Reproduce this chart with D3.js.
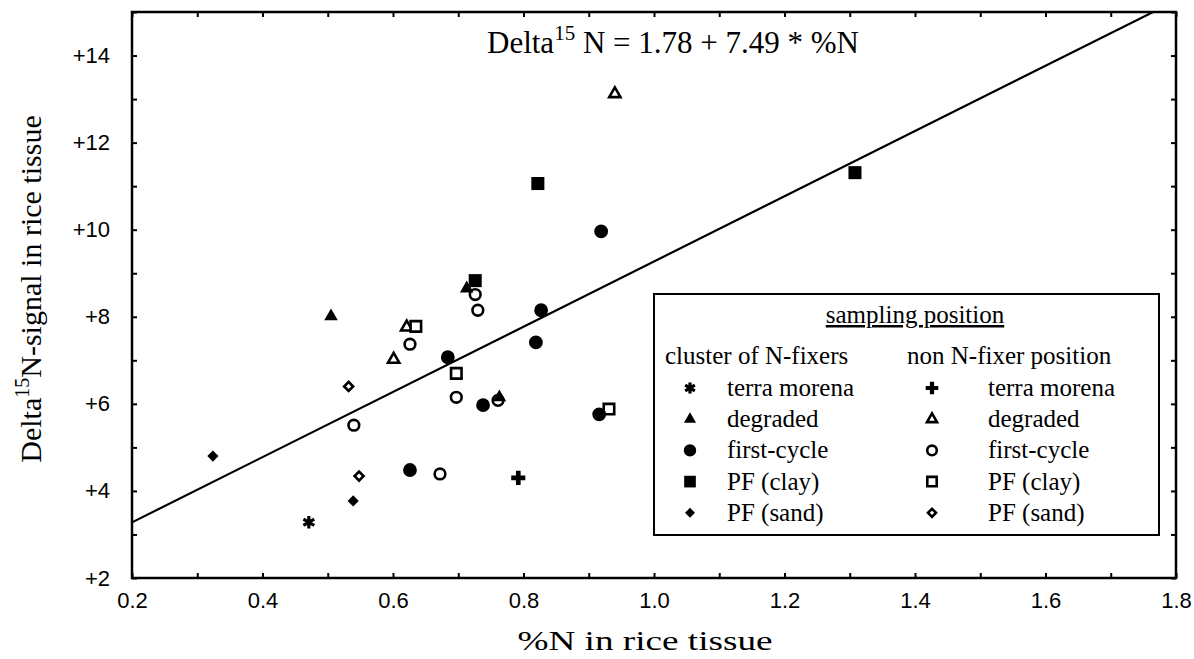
<!DOCTYPE html>
<html>
<head>
<meta charset="utf-8">
<script src="https://cdn.jsdelivr.net/npm/d3@7"></script>
<style>
  body { margin: 0; background: #fff; }
  svg { display: block; }
  .tick text { font-family: "Liberation Sans", Arial, sans-serif; font-size: 22px; fill: #000; }
  .tick line { stroke: #000; stroke-width: 2; }
  .serif { font-family: "Liberation Serif", "Times New Roman", serif; fill: #000; }
</style>
</head>
<body>
<svg id="chart" width="1194" height="659"></svg>
<script>
// cluster of N-fixers (filled markers), [%N, delta15N]
const fixTerraMorena = [[0.471, 3.28]];
const fixDegraded = [[0.505, 8.01], [0.713, 8.65], [0.763, 6.15]];
const fixFirstCycle = [[0.919, 9.96], [0.827, 8.15], [0.819, 7.41], [0.684, 7.07], [0.738, 5.97], [0.916, 5.76], [0.626, 4.48]];
const fixPfClay = [[0.822, 11.06], [0.726, 8.83], [1.308, 11.31]];
const fixPfSand = [[0.324, 4.80], [0.539, 3.77]];

// non N-fixer position (open markers)
const nonTerraMorena = [[0.792, 4.30]];
const nonDegraded = [[0.940, 13.12], [0.621, 7.76], [0.601, 7.02]];
const nonFirstCycle = [[0.726, 8.51], [0.730, 8.15], [0.626, 7.37], [0.697, 6.15], [0.761, 6.08], [0.540, 5.51], [0.672, 4.39]];
const nonPfClay = [[0.635, 7.78], [0.697, 6.70], [0.931, 5.88]];
const nonPfSand = [[0.532, 6.40], [0.548, 4.34]];

// regression: delta = 1.78 + 7.49 * %N
const fitIntercept = 1.78;
const fitSlope = 7.49;

const legendNames = ['terra morena', 'degraded', 'first-cycle', 'PF (clay)', 'PF (sand)'];
const xTickMinor = [0.2, 0.3, 0.4, 0.5, 0.6, 0.7, 0.8, 0.9, 1.0, 1.1, 1.2, 1.3, 1.4, 1.5, 1.6, 1.7, 1.8];
const xTickLabels = [0.2, 0.4, 0.6, 0.8, 1.0, 1.2, 1.4, 1.6, 1.8];
const yTickMinor = [2, 3, 4, 5, 6, 7, 8, 9, 10, 11, 12, 13, 14, 15];
const yTickLabels = [2, 4, 6, 8, 10, 12, 14];

const svg = d3.select('#chart');
const padLeft = 132, padRight = 1176, padTop = 12, padBottom = 578;

const x = d3.scaleLinear().domain([0.2, 1.8]).range([padLeft, padRight]);
const y = d3.scaleLinear().domain([2, 15]).range([padBottom, padTop]);

// marker shapes
const shapes = {
  'terra morena': { sym: d3.symbolAsterisk, size: 110, rot: 0 },
  'degraded': { sym: d3.symbolTriangle, size: 80, rot: 0 },
  'first-cycle': { sym: d3.symbolCircle, size: 150, rot: 0 },
  'PF (clay)': { sym: d3.symbolSquare, size: 170, rot: 0 },
  'PF (sand)': { sym: d3.symbolSquare, size: 62, rot: 45 }
};
const plusShape = { sym: d3.symbolCross, size: 110, rot: 0 };

function drawMarker(g, name, open, px, py, k) {
  let s = shapes[name];
  if (name === 'terra morena' && open) s = plusShape;
  let size = s.size * k;
  if (open && name === 'degraded') size = 55 * k;
  if (open && name === 'first-cycle') size = 90 * k;
  if (open && name === 'PF (clay)') size = 110 * k;
  if (open && name === 'PF (sand)') size = 40 * k;
  const p = g.append('path')
    .attr('d', d3.symbol().type(s.sym).size(size)())
    .attr('transform', `translate(${px},${py}) rotate(${s.rot})`);
  if (s.sym === d3.symbolAsterisk) {
    p.attr('fill', 'none').attr('stroke', '#000').attr('stroke-width', 3.2);
  } else if (open && s !== plusShape) {
    p.attr('fill', '#fff').attr('stroke', '#000').attr('stroke-width', 2.6);
  } else {
    p.attr('fill', '#000');
  }
}

// axes (ticks pointing inward)
const axisG = svg.append('g');
axisG.append('g')
  .attr('transform', `translate(0,${padBottom})`)
  .call(d3.axisBottom(x).tickValues(xTickMinor).tickSize(-5).tickPadding(14)
    .tickFormat(d => xTickLabels.some(v => Math.abs(v - d) < 1e-9) ? d3.format('.1f')(d) : ''));
axisG.append('g')
  .attr('transform', `translate(0,${padTop})`)
  .call(d3.axisTop(x).tickValues(xTickMinor).tickSize(-5).tickFormat(''));
axisG.append('g')
  .attr('transform', `translate(${padLeft},0)`)
  .call(d3.axisLeft(y).tickValues(yTickMinor).tickSize(-5).tickPadding(22)
    .tickFormat(d => yTickLabels.includes(d) ? '+' + d : ''));
axisG.append('g')
  .attr('transform', `translate(${padRight},0)`)
  .call(d3.axisRight(y).tickValues(yTickMinor).tickSize(-5).tickFormat(''));
axisG.selectAll('.domain').remove();

// frame
svg.append('rect')
  .attr('x', padLeft).attr('y', padTop)
  .attr('width', padRight - padLeft).attr('height', padBottom - padTop)
  .attr('fill', 'none').attr('stroke', '#000').attr('stroke-width', 2.5);

// regression line, clipped to plot
svg.append('clipPath').attr('id', 'plotClip')
  .append('rect').attr('x', padLeft).attr('y', padTop)
  .attr('width', padRight - padLeft).attr('height', padBottom - padTop);
const fitLine = d3.line().x(d => x(d)).y(d => y(fitIntercept + fitSlope * d));
svg.append('path')
  .attr('clip-path', 'url(#plotClip)')
  .attr('d', fitLine(x.domain()))
  .attr('fill', 'none').attr('stroke', '#000').attr('stroke-width', 2.2);

// equation
const eq = svg.append('text').attr('class', 'serif')
  .attr('x', 487).attr('y', 53).style('font-size', '31px');
eq.append('tspan').text('Delta');
eq.append('tspan').attr('dy', -13).style('font-size', '21px').text('15');
eq.append('tspan').attr('dy', 13).text(' N = 1.78 + 7.49 * %N');

// points
const fixSets = [fixTerraMorena, fixDegraded, fixFirstCycle, fixPfClay, fixPfSand];
const nonSets = [nonTerraMorena, nonDegraded, nonFirstCycle, nonPfClay, nonPfSand];
const pts = svg.append('g');
legendNames.forEach((name, i) => {
  nonSets[i].forEach(d => drawMarker(pts, name, true, x(d[0]), y(d[1]), 1));
});
legendNames.forEach((name, i) => {
  fixSets[i].forEach(d => drawMarker(pts, name, false, x(d[0]), y(d[1]), 1));
});

// legend
const lg = svg.append('g');
lg.append('rect')
  .attr('x', 654).attr('y', 294).attr('width', 505).attr('height', 241)
  .attr('fill', '#fff').attr('stroke', '#000').attr('stroke-width', 2);
lg.append('text').attr('class', 'serif')
  .attr('x', 915).attr('y', 323).attr('text-anchor', 'middle')
  .style('font-size', '25px').style('text-decoration', 'underline')
  .text('sampling position');
lg.append('text').attr('class', 'serif')
  .attr('x', 665).attr('y', 364).style('font-size', '25px')
  .text('cluster of N-fixers');
lg.append('text').attr('class', 'serif')
  .attr('x', 907).attr('y', 364).style('font-size', '25px')
  .text('non N-fixer position');
legendNames.forEach((name, i) => {
  const cy = 388 + i * 31.2;
  drawMarker(lg, name, false, 690, cy, 0.8);
  drawMarker(lg, name, true, 932, cy, 0.8);
  lg.append('text').attr('class', 'serif')
    .attr('x', 727).attr('y', cy + 8).style('font-size', '25px').text(name);
  lg.append('text').attr('class', 'serif')
    .attr('x', 988).attr('y', cy + 8).style('font-size', '25px').text(name);
});

// axis titles
svg.append('text').attr('class', 'serif')
  .attr('x', 645).attr('y', 650).attr('text-anchor', 'middle')
  .style('font-size', '28px')
  .attr('textLength', 255).attr('lengthAdjust', 'spacingAndGlyphs')
  .text('%N in rice tissue');

const yt = svg.append('text').attr('class', 'serif')
  .attr('transform', 'translate(41,289) rotate(-90)')
  .attr('text-anchor', 'middle').style('font-size', '30px');
yt.append('tspan').text('Delta');
yt.append('tspan').attr('dy', -12).style('font-size', '20px').text('15');
yt.append('tspan').attr('dy', 12).text('N-signal in rice tissue');
</script>
</body>
</html>
